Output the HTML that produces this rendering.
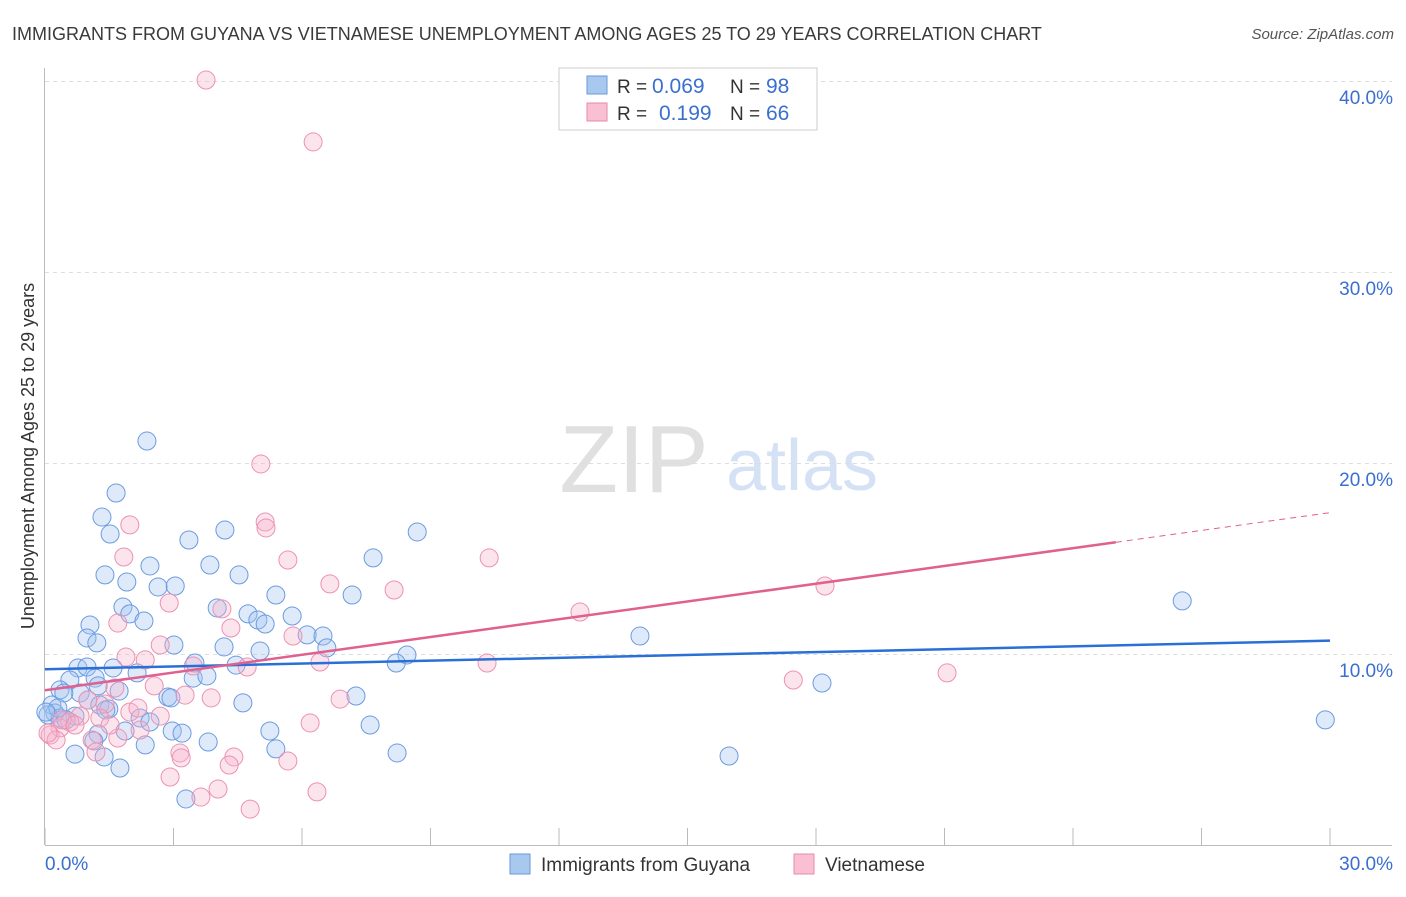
<!DOCTYPE html>
<html><head><meta charset="utf-8"><style>
body{margin:0;background:#fff;font-family:"Liberation Sans",sans-serif}
svg text{font-family:"Liberation Sans",sans-serif}
</style></head><body>
<svg id="c" width="1406" height="892" xmlns="http://www.w3.org/2000/svg">
<text x="12" y="40" font-size="18" fill="#3a3a3a">IMMIGRANTS FROM GUYANA VS VIETNAMESE UNEMPLOYMENT AMONG AGES 25 TO 29 YEARS CORRELATION CHART</text>
<text x="1394" y="39" font-size="15" fill="#555" font-style="italic" text-anchor="end">Source: ZipAtlas.com</text>
<text x="634" y="492" font-size="96" fill="#e0e0e0" font-family="Liberation Serif" text-anchor="middle">ZIP</text>
<text x="802" y="490" font-size="72" fill="#d5e2f5" text-anchor="middle">atlas</text>
<text transform="translate(34,456) rotate(-90)" font-size="18" fill="#333" text-anchor="middle">Unemployment Among Ages 25 to 29 years</text>
<g id="grid"></g><g id="pts"></g><g id="trend"></g>
<g>
<rect x="559" y="68" width="258" height="62" fill="#fff" stroke="#ccc"/>
<rect x="587" y="76" width="20" height="18" fill="#a8c8f0" stroke="#6a9ad8"/>
<rect x="587" y="103" width="20" height="18" fill="#f8c0d2" stroke="#e88aaa"/>
<text x="617" y="93" font-size="19" fill="#333">R =</text>
<text x="652" y="93" font-size="21" fill="#3a6fd0">0.069</text>
<text x="730" y="93" font-size="19" fill="#333">N =</text>
<text x="766" y="93" font-size="21" fill="#3a6fd0">98</text>
<text x="617" y="120" font-size="19" fill="#333">R =</text>
<text x="659" y="120" font-size="21" fill="#3a6fd0">0.199</text>
<text x="730" y="120" font-size="19" fill="#333">N =</text>
<text x="766" y="120" font-size="21" fill="#3a6fd0">66</text>
</g>
<g>
<rect x="510" y="854" width="20" height="20" fill="#a8c8f0" stroke="#6a9ad8"/>
<text x="541" y="871" font-size="19" fill="#333">Immigrants from Guyana</text>
<rect x="794" y="854" width="20" height="20" fill="#f8c0d2" stroke="#e88aaa"/>
<text x="825" y="871" font-size="19" fill="#333">Vietnamese</text>
</g>
</svg>
<script>
const blueX=[2.38,1.66,1.33,1.52,8.69,4.20,3.36,2.45,3.85,7.66,1.40,1.91,4.53,2.64,3.04,5.39,7.17,1.82,4.02,1.98,4.74,5.77,2.31,4.97,5.14,1.05,0.98,1.21,3.01,6.12,6.49,13.89,6.58,26.55,5.02,4.18,8.45,8.20,4.46,0.77,0.98,1.59,3.50,3.46,3.78,2.15,0.58,1.17,0.35,0.82,0.44,1.24,1.73,2.87,2.94,4.62,7.26,1.00,1.28,1.49,0.16,0.23,0.35,0.70,0.49,1.42,2.22,2.45,2.97,3.20,1.87,1.24,5.25,7.59,29.89,1.14,2.34,3.81,5.39,8.22,0.70,1.38,1.75,3.29,15.97,18.14,0.07,0.30,0.02];
const blueY=[21.15,18.43,17.17,16.28,16.39,16.49,15.97,14.61,14.66,15.03,14.14,13.77,14.14,13.51,13.56,13.09,13.09,12.46,12.41,12.10,12.10,11.99,11.73,11.78,11.57,11.52,10.84,10.58,10.47,11.00,10.94,10.94,10.32,12.78,10.16,10.37,9.95,9.53,9.42,9.27,9.32,9.27,9.53,8.74,8.85,9.01,8.64,8.74,8.12,7.96,7.96,8.33,8.06,7.75,7.70,7.44,7.80,7.59,7.33,7.12,7.33,6.91,6.65,6.75,6.55,7.07,6.65,6.44,5.97,5.86,5.97,5.81,5.97,6.28,6.55,5.45,5.24,5.39,5.03,4.82,4.76,4.61,4.03,2.41,4.66,8.48,6.81,7.17,6.96];
const pinkX=[3.76,6.26,5.04,1.98,5.14,5.16,1.84,5.67,10.37,6.65,8.15,12.49,18.21,2.90,4.13,4.34,1.70,5.79,2.69,1.89,2.34,6.42,10.32,3.46,4.72,2.55,3.27,3.88,6.89,1.00,1.63,1.40,1.98,2.17,1.28,0.82,0.58,0.35,0.12,2.22,1.70,1.10,3.15,3.18,4.41,4.30,5.67,6.19,17.47,21.06,2.92,3.64,4.04,4.79,6.35,2.69,0.40,0.70,1.52,1.19,0.26,0.07];
const pinkY=[40.05,36.81,19.95,16.76,16.91,16.60,15.08,14.92,15.03,13.67,13.35,12.20,13.56,12.67,12.36,11.36,11.62,10.94,10.47,9.84,9.69,9.58,9.53,9.37,9.32,8.33,7.85,7.70,7.64,7.59,8.22,7.38,6.96,7.17,6.65,6.75,6.44,6.13,5.76,6.02,5.60,5.50,4.82,4.56,4.61,4.19,4.40,6.39,8.64,9.01,3.56,2.51,2.93,1.88,2.78,6.75,6.55,6.28,6.28,4.87,5.50,5.86];
const blueTrend=[9.2,10.7];
const pinkTrend=[8.1,17.4];
const yTicks=[10,20,30,40];
const yTickLabels=["10.0%","20.0%","30.0%","40.0%"];
const xTicks=[0,3,6,9,12,15,18,21,24,27,30];
const NS="http://www.w3.org/2000/svg";
const X=v=>45+v/30*1285, Y=v=>845-v/10*191;
function mk(t,a,p){const e=document.createElementNS(NS,t);for(const k in a)e.setAttribute(k,a[k]);p.appendChild(e);return e;}
const g=document.getElementById('grid');
yTicks.forEach((t,i)=>{
 const l=mk('line',{x1:45,x2:1392,y1:Y(t)+0.5,y2:Y(t)+0.5,stroke:'#ddd','stroke-dasharray':'4,4'},g);
 
 
 const tx=mk('text',{x:1393,y:Y(t)+23,'font-size':19,fill:'#3a6fd0','text-anchor':'end'},g);
 tx.textContent=yTickLabels[i];
 
 
});
const ax=mk('line',{x1:45,x2:1392,y1:845.5,y2:845.5,stroke:'#bbb'},g);


const ay=mk('line',{x1:44.5,x2:44.5,y1:68,y2:845,stroke:'#bbb'},g);


xTicks.forEach(t=>{const l=mk('line',{x1:X(t),x2:X(t),y1:828,y2:845,stroke:'#bbb'},g);
 
 });
const x0=mk('text',{x:45,y:870,'font-size':19,fill:'#3a6fd0'},g);x0.textContent='0.0%';


const x1=mk('text',{x:1393,y:870,'font-size':19,fill:'#3a6fd0','text-anchor':'end'},g);x1.textContent='30.0%';


const p=document.getElementById('pts');
blueX.forEach((v,i)=>{const c=mk('circle',{cx:X(v),cy:Y(blueY[i]),r:9,fill:'rgba(160,196,240,0.35)',stroke:'#6b9be0','stroke-width':1},p);
 
 });
pinkX.forEach((v,i)=>{const c=mk('circle',{cx:X(v),cy:Y(pinkY[i]),r:9,fill:'rgba(246,178,202,0.35)',stroke:'#ec92b2','stroke-width':1},p);
 
 });
const tr=document.getElementById('trend');
const bl=mk('line',{x1:X(0),y1:Y(blueTrend[0]),x2:X(30),y2:Y(blueTrend[1]),stroke:'#2a6fd6','stroke-width':2.5},tr);


const pm=pinkTrend[0]+(pinkTrend[1]-pinkTrend[0])*25/30;
const pl=mk('line',{x1:X(0),y1:Y(pinkTrend[0]),x2:X(25),y2:Y(pm),stroke:'#e0608e','stroke-width':2.5},tr);


const pd=mk('line',{x1:X(25),y1:Y(pm),x2:X(30),y2:Y(pinkTrend[1]),stroke:'#e0608e','stroke-width':1,'stroke-dasharray':'6,5'},tr);


</script>
</body></html>
